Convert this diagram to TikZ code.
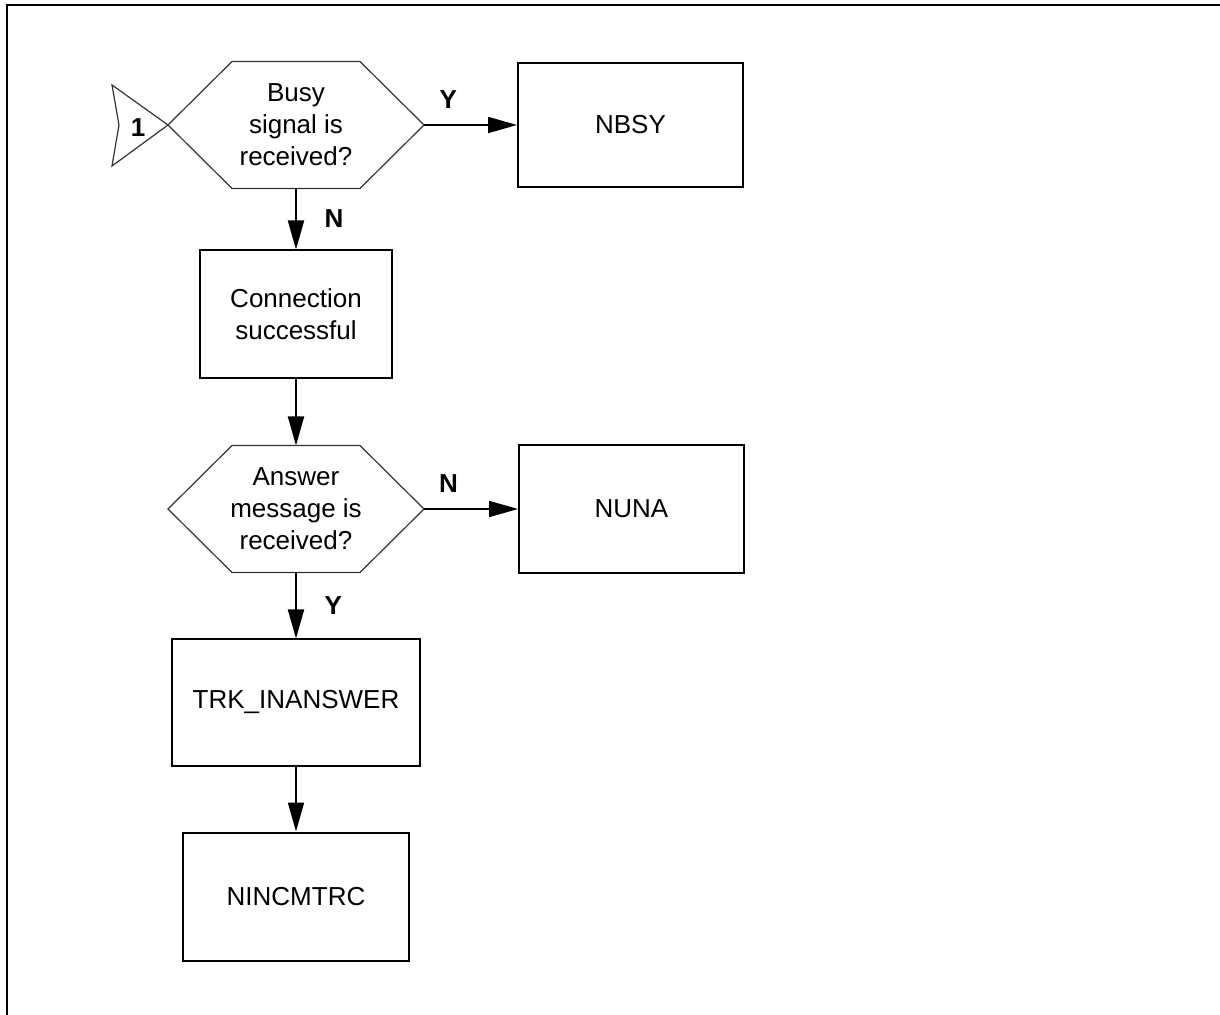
\documentclass[tikz,border=0pt]{standalone}
\usepackage{fontspec}
\setmainfont{Liberation Sans}
\usepackage{tikz}
\usetikzlibrary{arrows.meta,positioning}
\definecolor{inkblack}{RGB}{0,0,0}

\begin{document}
\begin{tikzpicture}[
  node distance=33pt and 46.5pt,
  font=\fontsize{13}{16}\selectfont,
  box/.style={draw=inkblack, line width=1pt, rectangle, minimum width=112.5pt, minimum height=64pt, align=center},
  hex/.style={rectangle, outer sep=0pt, minimum width=128pt, minimum height=63.5pt, align=center},
  edge/.style={draw=inkblack!80, line width=0.6pt},
  lab/.style={font=\fontsize{13}{16}\selectfont\bfseries},
  arr/.style={-{Triangle[length=14.5pt,width=8pt]}, line width=1pt}
]
\useasboundingbox (-148pt,-445pt) rectangle (462pt,62.5pt);
\draw[line width=1pt] (-144.25pt,-470pt) |- (480pt,59.75pt);
\node[hex] (q1) {Busy\\signal is\\received?};
\node[box, right=of q1, minimum height=62pt] (n1) {NBSY};
\node[box, below=30.5pt of q1, minimum width=96pt] (n2) {Connection\\successful};
\node[hex, below=of n2] (q2) {Answer\\message is\\received?};
\node[box, right=47pt of q2] (n3) {NUNA};
\node[box, below=of q2, minimum width=124pt, minimum height=63pt] (n4) {TRK\_INANSWER};
\node[box, below=32.5pt of n4] (n5) {NINCMTRC};
\node[lab] (c1) at ([xshift=-15pt,yshift=-1.5pt]q1.west) {1};
% decision outlines and the off-page connector
\foreach \q in {q1,q2}
  \draw[edge] (\q.west) -- ([xshift=32pt]\q.north west) -- ([xshift=-32pt]\q.north east) -- (\q.east) -- ([xshift=-32pt]\q.south east) -- ([xshift=32pt]\q.south west) -- cycle;
\draw[edge] (q1.west) -- ++(-28pt,20pt) -- ++(3.5pt,-20pt) -- ++(-3.5pt,-20.5pt) -- cycle;
\draw[arr] (q1) -- node[lab, above=4.5pt, pos=0.26] {Y} (n1);
\draw[arr] (q1) -- node[lab, right=10.5pt] {N} (n2);
\draw[arr] (n2) -- (q2);
\draw[arr] (q2) -- node[lab, above=4.5pt, pos=0.26] {N} (n3);
\draw[arr] (q2) -- node[lab, right=10.5pt] {Y} (n4);
\draw[arr] (n4) -- (n5);
\end{tikzpicture}
\end{document}
